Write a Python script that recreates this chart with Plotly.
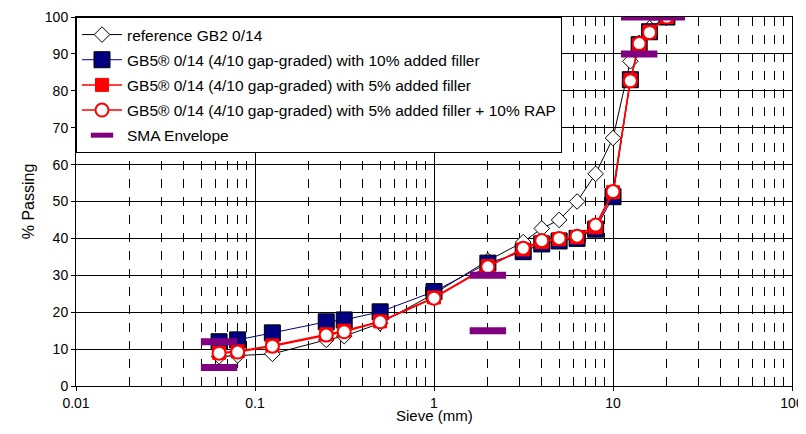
import plotly.graph_objects as go

sieves = [0.063, 0.08, 0.125, 0.25, 0.315, 0.5, 1, 2, 3.15, 4, 5, 6.3, 8, 10, 12.5, 14, 16, 20]
ref_gb2 = [8, 8.3, 8.7, 12.5, 13.5, 17, 25, 34, 39, 42.7, 45, 50, 57.5, 67.2, 88, 93, 97, 100]
gb5_10filler = [12, 12.5, 14.4, 17.4, 17.9, 20.1, 25.6, 33.3, 36.4, 38.5, 39.3, 40, 42.5, 51.3, 83, 92.5, 96, 100]
gb5_5filler = [9, 9.4, 11, 14, 15, 17.5, 24, 32.5, 37, 39, 39.8, 40.3, 43, 52.5, 83, 92.5, 96, 100]
gb5_5filler_rap = [8.9, 9.2, 10.8, 13.8, 14.7, 17.4, 23.8, 32.3, 37.3, 39.4, 40, 40.6, 43.6, 52.7, 82.7, 92.8, 95.8, 100]

sma_x = [0.063, 0.063, 2, 2, 14, 14, 20]
sma_y = [5, 12, 15, 30, 90, 100, 100]

x_tickvals = [0.01, 0.1, 1, 10, 100]
x_ticktext = ["0.01", "0.1", "1", "10", "100"]

names = [
    "reference GB2 0/14",
    "GB5\u00ae 0/14 (4/10 gap-graded) with 10% added filler",
    "GB5\u00ae 0/14 (4/10 gap-graded) with 5% added filler",
    "GB5\u00ae 0/14 (4/10 gap-graded) with 5% added filler + 10% RAP",
    "SMA Envelope",
]

font = "Liberation Sans, Arial, sans-serif"

fig = go.Figure()
fig.add_trace(go.Scatter(
    x=sieves, y=ref_gb2, name=names[0], mode="lines+markers", legendgroup="a",
    line=dict(color="black", width=1),
    marker=dict(symbol="diamond", size=12, color="white", line=dict(color="black", width=1)),
))
fig.add_trace(go.Scatter(
    x=sieves, y=gb5_10filler, name=names[1], mode="lines+markers", legendgroup="b",
    line=dict(color="#000080", width=1),
    marker=dict(symbol="square", size=16, color="#000080", line=dict(color="black", width=1)),
))
fig.add_trace(go.Scatter(
    x=sieves, y=gb5_5filler, name=names[2], mode="lines+markers", legendgroup="c",
    line=dict(color="red", width=1.5),
    marker=dict(symbol="square", size=13, color="red", line=dict(color="red", width=1)),
))
fig.add_trace(go.Scatter(
    x=sieves, y=gb5_5filler_rap, name=names[3], mode="lines+markers", legendgroup="d",
    line=dict(color="red", width=1.5),
    marker=dict(symbol="circle", size=13, color="white", line=dict(color="red", width=2)),
))
fig.add_trace(go.Scatter(
    x=sma_x, y=sma_y, name=names[4], mode="markers", legendgroup="e",
    marker=dict(symbol="line-ew", size=26, color="#800080", line=dict(color="#800080", width=7)),
))

fig.update_layout(
    width=798, height=418,
    margin=dict(l=68, r=14, t=9, b=40),
    paper_bgcolor="white", plot_bgcolor="white",
    font=dict(family=font, size=14, color="black"),
    showlegend=True,
    legend=dict(
        x=0, y=1, xanchor="left", yanchor="top",
        bgcolor="white", bordercolor="black", borderwidth=1,
        font=dict(size=15.5, family=font), tracegroupgap=2,
        itemwidth=40,
    ),
    xaxis=dict(
        type="log", range=[-2, 2], automargin=False,
        tickvals=x_tickvals, ticktext=x_ticktext,
        showgrid=True, gridcolor="black", gridwidth=1,
        showline=True, linecolor="black", linewidth=1, mirror=True,
        ticks="outside", ticklen=4, tickcolor="black",
        minor=dict(dtick="D1", showgrid=True, gridcolor="black", griddash="dash", gridwidth=1, ticks=""),
        zeroline=False,
    ),
    yaxis=dict(
        range=[0, 100], dtick=10, automargin=False,
        showgrid=True, gridcolor="black", gridwidth=1,
        showline=True, linecolor="black", linewidth=1, mirror=True,
        ticks="outside", ticklen=4, tickcolor="black",
        title=dict(text="% Passing", standoff=6, font=dict(size=16)),
        zeroline=False,
    ),
    annotations=[dict(
        text="Sieve (mm)", xref="paper", yref="paper", x=0.5, y=0,
        xanchor="center", yanchor="top", yshift=-19, showarrow=False,
        font=dict(size=15, family=font, color="black"),
    )],
)

fig.write_html("out.html")
